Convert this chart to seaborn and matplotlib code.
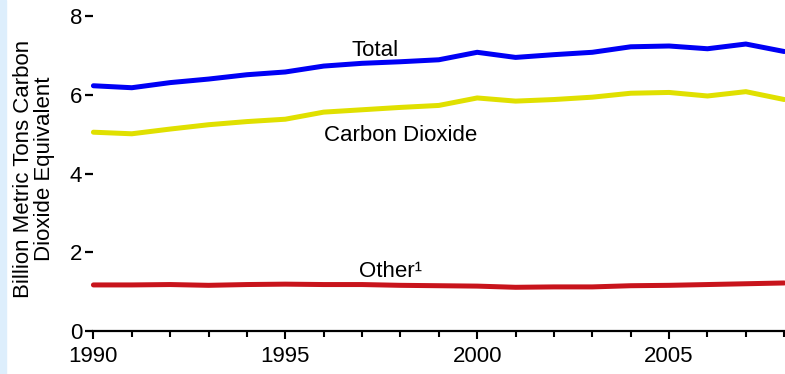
import matplotlib
matplotlib.use('Agg')
import matplotlib.pyplot as plt
import seaborn as sns
import pandas as pd
from matplotlib.ticker import MultipleLocator

# Data (billion metric tons CO2 equivalent)
years = list(range(1990, 2009))
total = [6.23, 6.18, 6.31, 6.40, 6.51, 6.58, 6.73, 6.80, 6.84, 6.89,
         7.08, 6.95, 7.02, 7.08, 7.22, 7.24, 7.17, 7.29, 7.10]
carbon_dioxide = [5.05, 5.01, 5.13, 5.24, 5.32, 5.38, 5.56, 5.62, 5.68, 5.73,
                  5.92, 5.84, 5.88, 5.94, 6.04, 6.06, 5.97, 6.08, 5.88]
other = [1.17, 1.17, 1.18, 1.16, 1.18, 1.19, 1.18, 1.18, 1.16, 1.15,
         1.14, 1.11, 1.12, 1.12, 1.15, 1.16, 1.18, 1.20, 1.22]

series_names = ['Total', 'Carbon Dioxide', 'Other\u00b9']
colors = {'Total': '#0000F5', 'Carbon Dioxide': '#E0E000', 'Other\u00b9': '#C8141C'}

df = pd.DataFrame({
    'year': years * 3,
    'value': total + carbon_dioxide + other,
    'series': [s for s in series_names for _ in years],
})

sns.set_theme(style='white')
plt.rcParams['font.family'] = ['Liberation Sans', 'DejaVu Sans']
plt.rcParams['text.color'] = 'black'
plt.rcParams['xtick.color'] = 'black'
plt.rcParams['ytick.color'] = 'black'
plt.rcParams['xtick.labelcolor'] = 'black'
plt.rcParams['ytick.labelcolor'] = 'black'

fig = plt.figure(figsize=(7.85, 3.74), dpi=100)
ax = fig.add_axes([0.119, 0.115, 0.880, 0.842])

# light blue strip on the left edge
fig.patches.append(plt.Rectangle((0, 0), 6 / 785, 1, transform=fig.transFigure,
                                 color='#DDEEFC', zorder=0))

sns.lineplot(data=df, x='year', y='value', hue='series', palette=colors,
             linewidth=3.6, legend=False, ax=ax, clip_on=False)

ax.set_xlim(1990, 2008)
ax.set_ylim(0, 8)
ax.set_xlabel('')
ax.set_ylabel('')
ax.xaxis.set_major_locator(MultipleLocator(5))
ax.xaxis.set_minor_locator(MultipleLocator(1))
ax.yaxis.set_major_locator(MultipleLocator(2))

for side in ['top', 'right', 'left']:
    ax.spines[side].set_visible(False)
ax.spines['bottom'].set_linewidth(1.6)
ax.spines['bottom'].set_color('black')

fs = 16
ax.tick_params(axis='x', which='major', direction='out', length=6, width=1.5,
               labelsize=fs, pad=5, bottom=True)
ax.tick_params(axis='x', which='minor', direction='out', length=4, width=1.5,
               bottom=True)
ax.tick_params(axis='y', direction='out', length=6, width=1.6,
               labelsize=fs, pad=2, left=True)

# series labels
ax.text(1997.35, 6.99, 'Total', fontsize=fs, ha='center', va='baseline')
ax.text(1998.0, 4.82, 'Carbon Dioxide', fontsize=fs, ha='center', va='baseline')
ax.text(1997.75, 1.38, 'Other\u00b9', fontsize=fs, ha='center', va='baseline')

fig.text(0.043, 0.548, 'Billion Metric Tons Carbon\nDioxide Equivalent',
         rotation=90, ha='center', va='center', fontsize=fs, linespacing=1.0)

fig.savefig('out.png', dpi=100)
